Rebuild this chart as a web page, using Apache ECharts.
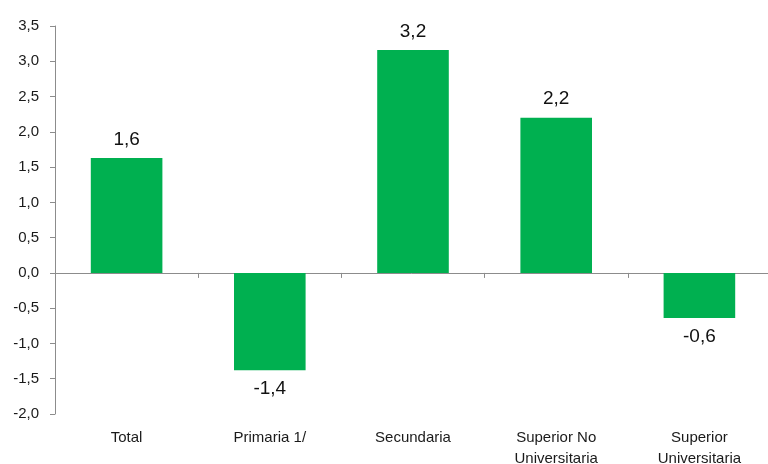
<!DOCTYPE html>
<html>
<head>
<meta charset="utf-8">
<script src="https://cdn.jsdelivr.net/npm/echarts@6/dist/echarts.min.js"></script>
<style>html,body{margin:0;padding:0;background:#fff}#c{width:768px;height:464px}</style>
</head>
<body>
<div id="c"></div>
<script>
const categories = ["Total", "Primaria 1/", "Secundaria", "Superior No\nUniversitaria", "Superior\nUniversitaria"];
const values = [1.63, -1.38, 3.16, 2.2, -0.64];
const yMin = -2.0, yMax = 3.5, yStep = 0.5;

const FONT = "'Liberation Sans', Arial, sans-serif";
const chart = echarts.init(document.getElementById('c'), null, {renderer: 'canvas'});
const fmt = v => v.toFixed(1).replace('.', ',');
chart.setOption({
  animation: false,
  grid: {left: 55, right: -3, top: 26, bottom: 50, containLabel: false, outerBoundsMode: 'none'},
  xAxis: [
    {type: 'category', data: categories, position: 'bottom',
     axisLine: {onZero: true, lineStyle: {color: '#8c8c8c', width: 1}},
     axisTick: {show: true, length: 5, inside: false, lineStyle: {color: '#8c8c8c'}},
     axisLabel: {show: false}, splitLine: {show: false}},
    {type: 'category', data: categories, position: 'bottom',
     axisLine: {show: false, onZero: false}, axisTick: {show: false},
     axisLabel: {show: true, margin: 13, color: '#1a1a1a', fontFamily: FONT, fontSize: 15, lineHeight: 21, interval: 0, hideOverlap: false},
     splitLine: {show: false}}
  ],
  yAxis: {type: 'value', min: yMin, max: yMax, interval: yStep,
    axisLine: {show: true, lineStyle: {color: '#8c8c8c', width: 1}},
    axisTick: {show: true, length: 5, lineStyle: {color: '#8c8c8c'}},
    splitLine: {show: false},
    axisLabel: {margin: 16, color: '#1a1a1a', fontFamily: FONT, fontSize: 15, formatter: v => fmt(v)}},
  series: [{type: 'bar', xAxisIndex: 0, data: values, barWidth: '50%',
    itemStyle: {color: '#00B050'},
    label: {show: true, position: 'outside', distance: 9, color: '#111', fontFamily: FONT, fontSize: 19,
      formatter: p => fmt(p.value)}
  }]
});
</script>
</body>
</html>
